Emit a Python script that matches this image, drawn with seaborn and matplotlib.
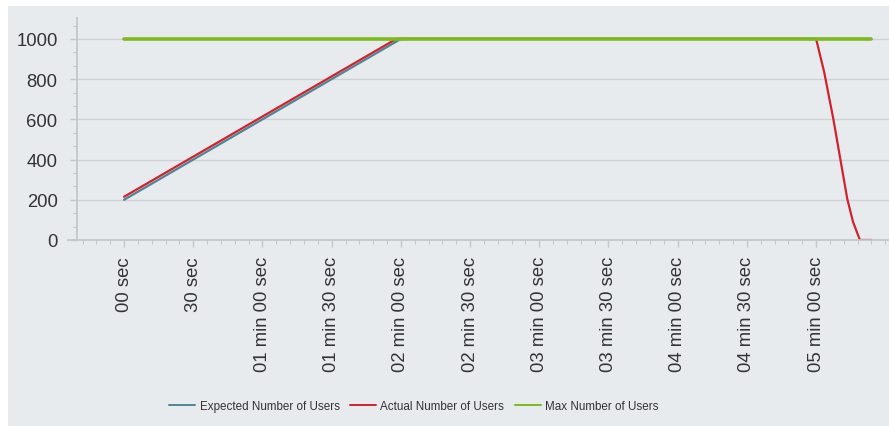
import numpy as np
import pandas as pd
import seaborn as sns
import matplotlib.pyplot as plt
from matplotlib.patches import Rectangle
from matplotlib.ticker import MultipleLocator

# --- data (seconds from start, number of users) ---
expected_t = [0, 120, 324]
expected_users = [200, 1000, 1000]
actual_t = [0, 118, 300, 303.5, 307.5, 313.5, 316, 319, 324]
actual_users = [215, 1000, 1000, 835, 600, 205, 90, 0, 0]
max_t = [0, 324]
max_users = [1000, 1000]

tick_seconds = [0, 30, 60, 90, 120, 150, 180, 210, 240, 270, 300]
tick_labels = ["00 sec", "30 sec", "01 min 00 sec", "01 min 30 sec", "02 min 00 sec",
               "02 min 30 sec", "03 min 00 sec", "03 min 30 sec", "04 min 00 sec",
               "04 min 30 sec", "05 min 00 sec"]
y_ticks = [0, 200, 400, 600, 800, 1000]

series_names = ["Expected Number of Users", "Actual Number of Users", "Max Number of Users"]
colors = ["#4d8796", "#d0232d", "#7dba1c"]
widths = [1.6, 1.6, 2.6]

df = pd.concat([
    pd.DataFrame({"t": expected_t, "users": expected_users, "series": series_names[0]}),
    pd.DataFrame({"t": actual_t, "users": actual_users, "series": series_names[1]}),
    pd.DataFrame({"t": max_t, "users": max_users, "series": series_names[2]}),
])

sns.set_theme(style="white")
plt.rcParams['font.family'] = ['Liberation Sans', 'DejaVu Sans']

bg = "#e8ebee"
fig = plt.figure(figsize=(8.89, 4.27), dpi=100, facecolor="white")
fig.patches.append(Rectangle((8 / 889, 0), 1, 1 - 7 / 427, transform=fig.transFigure,
                             facecolor=bg, edgecolor="none", zorder=-10))
ax = fig.add_axes([77 / 889, 1 - 241 / 427, (889 - 77) / 889, (241 - 19) / 427])
ax.set_facecolor(bg)

for name, c, lw in zip(series_names, colors, widths):
    sns.lineplot(data=df[df["series"] == name], x="t", y="users", color=c, lw=lw,
                 sort=False, ax=ax, label=name, legend=False)

ax.set_xlim(-20.4, 331.6)
ax.set_ylim(0, 1104)
ax.set_xlabel("")
ax.set_ylabel("")

ax.set_xticks(tick_seconds)
ax.set_xticklabels(tick_labels, rotation=90, va="top", ha="center")
ax.xaxis.set_minor_locator(MultipleLocator(6))
ax.set_yticks(y_ticks)
ax.yaxis.set_minor_locator(MultipleLocator(200 / 3))

ax.yaxis.grid(True, color="#cfd2d5", lw=1)
ax.xaxis.grid(False)
ax.set_axisbelow(True)

for s in ["top", "right"]:
    ax.spines[s].set_visible(False)
ax.spines["left"].set_color("#c4c7ca")
ax.spines["bottom"].set_color("#c4c7ca")
ax.spines["bottom"].set_bounds(-24.3, 331.6)

ax.tick_params(axis="both", which="major", length=5, width=1, color="#c4c7ca",
               labelsize=13.3, labelcolor="#333333", left=True, bottom=True)
ax.tick_params(axis="both", which="minor", length=3, width=0.8, color="#c4c7ca",
               left=True, bottom=True)
ax.tick_params(axis="x", which="major", pad=6.5)
ax.tick_params(axis="y", which="major", pad=9)

handles, labels = ax.get_legend_handles_labels()
leg = fig.legend(handles, labels, loc="center", bbox_to_anchor=(414 / 889, 1 - 407 / 427),
                 ncol=3, frameon=False, handlelength=2.2, handletextpad=0.4,
                 columnspacing=0.9, labelcolor="#333333",
                 prop={'family': ['Liberation Sans', 'DejaVu Sans'], 'size': 8.4})
for h in leg.legend_handles:
    h.set_linewidth(1.4)

fig.savefig("out.png", dpi=100, facecolor=fig.get_facecolor())
